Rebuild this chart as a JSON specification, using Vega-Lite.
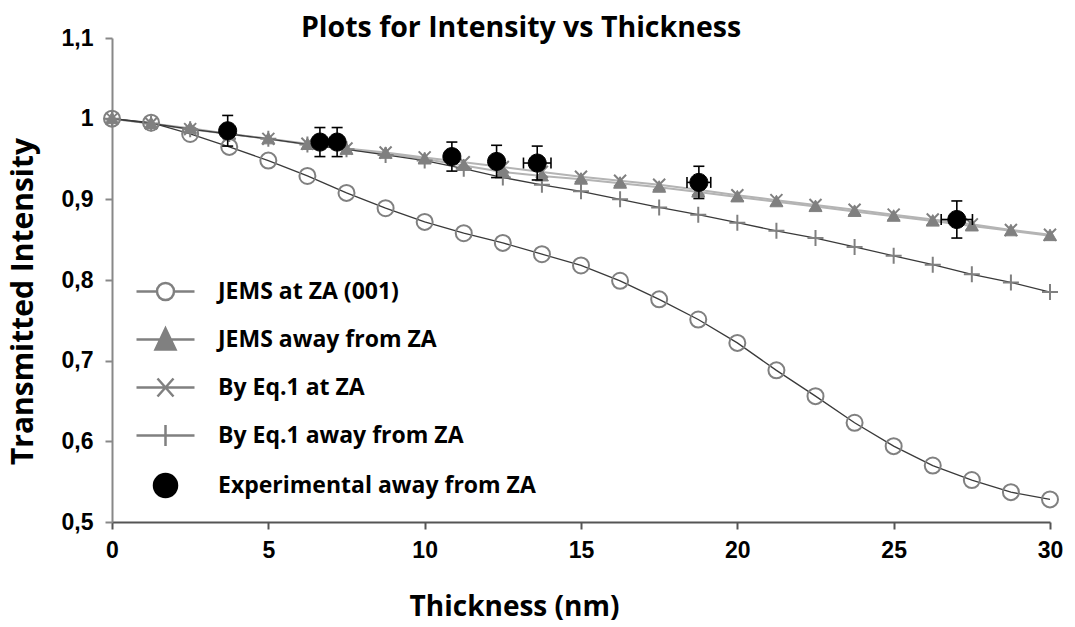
{
  "$schema": "https://vega.github.io/schema/vega-lite/v6.json",
  "width": 938,
  "height": 484,
  "autosize": "none",
  "padding": {"left": 112, "top": 38, "right": 25, "bottom": 105},
  "background": "white",
  "title": {"text": "Plots for Intensity vs Thickness", "font": "Open Sans", "fontSize": 28.5, "fontWeight": "bold", "color": "#000000", "anchor": "middle", "frame": "group", "dx": -60, "baseline": "alphabetic", "offset": -38},
  "config": {
    "view": {"stroke": null}
  },
  "datasets": {
    "all": [
      {"series": "JEMS at ZA (001)", "t": 0, "v": 1.0},
      {"series": "JEMS at ZA (001)", "t": 1.25, "v": 0.995},
      {"series": "JEMS at ZA (001)", "t": 2.5, "v": 0.981},
      {"series": "JEMS at ZA (001)", "t": 3.75, "v": 0.965},
      {"series": "JEMS at ZA (001)", "t": 5, "v": 0.948},
      {"series": "JEMS at ZA (001)", "t": 6.25, "v": 0.929},
      {"series": "JEMS at ZA (001)", "t": 7.5, "v": 0.908},
      {"series": "JEMS at ZA (001)", "t": 8.75, "v": 0.889},
      {"series": "JEMS at ZA (001)", "t": 10, "v": 0.872},
      {"series": "JEMS at ZA (001)", "t": 11.25, "v": 0.858},
      {"series": "JEMS at ZA (001)", "t": 12.5, "v": 0.846},
      {"series": "JEMS at ZA (001)", "t": 13.75, "v": 0.832},
      {"series": "JEMS at ZA (001)", "t": 15, "v": 0.818},
      {"series": "JEMS at ZA (001)", "t": 16.25, "v": 0.799},
      {"series": "JEMS at ZA (001)", "t": 17.5, "v": 0.776},
      {"series": "JEMS at ZA (001)", "t": 18.75, "v": 0.751},
      {"series": "JEMS at ZA (001)", "t": 20, "v": 0.722},
      {"series": "JEMS at ZA (001)", "t": 21.25, "v": 0.688},
      {"series": "JEMS at ZA (001)", "t": 22.5, "v": 0.656},
      {"series": "JEMS at ZA (001)", "t": 23.75, "v": 0.623},
      {"series": "JEMS at ZA (001)", "t": 25, "v": 0.594},
      {"series": "JEMS at ZA (001)", "t": 26.25, "v": 0.570},
      {"series": "JEMS at ZA (001)", "t": 27.5, "v": 0.552},
      {"series": "JEMS at ZA (001)", "t": 28.75, "v": 0.537},
      {"series": "JEMS at ZA (001)", "t": 30, "v": 0.528},

      {"series": "JEMS away from ZA", "t": 0, "v": 1.0},
      {"series": "JEMS away from ZA", "t": 1.25, "v": 0.994},
      {"series": "JEMS away from ZA", "t": 2.5, "v": 0.988},
      {"series": "JEMS away from ZA", "t": 3.75, "v": 0.981},
      {"series": "JEMS away from ZA", "t": 5, "v": 0.975},
      {"series": "JEMS away from ZA", "t": 6.25, "v": 0.968},
      {"series": "JEMS away from ZA", "t": 7.5, "v": 0.962},
      {"series": "JEMS away from ZA", "t": 8.75, "v": 0.957},
      {"series": "JEMS away from ZA", "t": 10, "v": 0.950},
      {"series": "JEMS away from ZA", "t": 11.25, "v": 0.942},
      {"series": "JEMS away from ZA", "t": 12.5, "v": 0.934},
      {"series": "JEMS away from ZA", "t": 13.75, "v": 0.929},
      {"series": "JEMS away from ZA", "t": 15, "v": 0.925},
      {"series": "JEMS away from ZA", "t": 16.25, "v": 0.920},
      {"series": "JEMS away from ZA", "t": 17.5, "v": 0.915},
      {"series": "JEMS away from ZA", "t": 18.75, "v": 0.909},
      {"series": "JEMS away from ZA", "t": 20, "v": 0.903},
      {"series": "JEMS away from ZA", "t": 21.25, "v": 0.897},
      {"series": "JEMS away from ZA", "t": 22.5, "v": 0.891},
      {"series": "JEMS away from ZA", "t": 23.75, "v": 0.885},
      {"series": "JEMS away from ZA", "t": 25, "v": 0.879},
      {"series": "JEMS away from ZA", "t": 26.25, "v": 0.873},
      {"series": "JEMS away from ZA", "t": 27.5, "v": 0.867},
      {"series": "JEMS away from ZA", "t": 28.75, "v": 0.861},
      {"series": "JEMS away from ZA", "t": 30, "v": 0.855},

      {"series": "By Eq.1 at ZA", "t": 0, "v": 1.0},
      {"series": "By Eq.1 at ZA", "t": 1.25, "v": 0.994},
      {"series": "By Eq.1 at ZA", "t": 2.5, "v": 0.987},
      {"series": "By Eq.1 at ZA", "t": 3.75, "v": 0.981},
      {"series": "By Eq.1 at ZA", "t": 5, "v": 0.975},
      {"series": "By Eq.1 at ZA", "t": 6.25, "v": 0.969},
      {"series": "By Eq.1 at ZA", "t": 7.5, "v": 0.963},
      {"series": "By Eq.1 at ZA", "t": 8.75, "v": 0.958},
      {"series": "By Eq.1 at ZA", "t": 10, "v": 0.952},
      {"series": "By Eq.1 at ZA", "t": 11.25, "v": 0.946},
      {"series": "By Eq.1 at ZA", "t": 12.5, "v": 0.940},
      {"series": "By Eq.1 at ZA", "t": 13.75, "v": 0.934},
      {"series": "By Eq.1 at ZA", "t": 15, "v": 0.928},
      {"series": "By Eq.1 at ZA", "t": 16.25, "v": 0.923},
      {"series": "By Eq.1 at ZA", "t": 17.5, "v": 0.918},
      {"series": "By Eq.1 at ZA", "t": 18.75, "v": 0.912},
      {"series": "By Eq.1 at ZA", "t": 20, "v": 0.905},
      {"series": "By Eq.1 at ZA", "t": 21.25, "v": 0.899},
      {"series": "By Eq.1 at ZA", "t": 22.5, "v": 0.893},
      {"series": "By Eq.1 at ZA", "t": 23.75, "v": 0.887},
      {"series": "By Eq.1 at ZA", "t": 25, "v": 0.881},
      {"series": "By Eq.1 at ZA", "t": 26.25, "v": 0.875},
      {"series": "By Eq.1 at ZA", "t": 27.5, "v": 0.869},
      {"series": "By Eq.1 at ZA", "t": 28.75, "v": 0.862},
      {"series": "By Eq.1 at ZA", "t": 30, "v": 0.856},

      {"series": "By Eq.1 away from ZA", "t": 0, "v": 1.0},
      {"series": "By Eq.1 away from ZA", "t": 1.25, "v": 0.994},
      {"series": "By Eq.1 away from ZA", "t": 2.5, "v": 0.987},
      {"series": "By Eq.1 away from ZA", "t": 3.75, "v": 0.981},
      {"series": "By Eq.1 away from ZA", "t": 5, "v": 0.975},
      {"series": "By Eq.1 away from ZA", "t": 6.25, "v": 0.968},
      {"series": "By Eq.1 away from ZA", "t": 7.5, "v": 0.962},
      {"series": "By Eq.1 away from ZA", "t": 8.75, "v": 0.955},
      {"series": "By Eq.1 away from ZA", "t": 10, "v": 0.948},
      {"series": "By Eq.1 away from ZA", "t": 11.25, "v": 0.938},
      {"series": "By Eq.1 away from ZA", "t": 12.5, "v": 0.927},
      {"series": "By Eq.1 away from ZA", "t": 13.75, "v": 0.918},
      {"series": "By Eq.1 away from ZA", "t": 15, "v": 0.910},
      {"series": "By Eq.1 away from ZA", "t": 16.25, "v": 0.900},
      {"series": "By Eq.1 away from ZA", "t": 17.5, "v": 0.890},
      {"series": "By Eq.1 away from ZA", "t": 18.75, "v": 0.881},
      {"series": "By Eq.1 away from ZA", "t": 20, "v": 0.871},
      {"series": "By Eq.1 away from ZA", "t": 21.25, "v": 0.861},
      {"series": "By Eq.1 away from ZA", "t": 22.5, "v": 0.852},
      {"series": "By Eq.1 away from ZA", "t": 23.75, "v": 0.841},
      {"series": "By Eq.1 away from ZA", "t": 25, "v": 0.830},
      {"series": "By Eq.1 away from ZA", "t": 26.25, "v": 0.819},
      {"series": "By Eq.1 away from ZA", "t": 27.5, "v": 0.807},
      {"series": "By Eq.1 away from ZA", "t": 28.75, "v": 0.797},
      {"series": "By Eq.1 away from ZA", "t": 30, "v": 0.785},

      {"series": "Experimental away from ZA", "t": 3.7, "v": 0.985, "vlo": 0.966, "vhi": 1.004},
      {"series": "Experimental away from ZA", "t": 6.65, "v": 0.971, "vlo": 0.953, "vhi": 0.989},
      {"series": "Experimental away from ZA", "t": 7.2, "v": 0.971, "vlo": 0.953, "vhi": 0.989},
      {"series": "Experimental away from ZA", "t": 10.87, "v": 0.953, "vlo": 0.935, "vhi": 0.971},
      {"series": "Experimental away from ZA", "t": 12.3, "v": 0.947, "vlo": 0.927, "vhi": 0.967},
      {"series": "Experimental away from ZA", "t": 13.6, "v": 0.945, "vlo": 0.924, "vhi": 0.966, "tlo": 13.16, "thi": 14.04},
      {"series": "Experimental away from ZA", "t": 18.77, "v": 0.921, "vlo": 0.901, "vhi": 0.941, "tlo": 18.39, "thi": 19.15},
      {"series": "Experimental away from ZA", "t": 27.02, "v": 0.875, "vlo": 0.852, "vhi": 0.898, "tlo": 26.52, "thi": 27.52}
    ]
  },
  "data": {"name": "all"},
  "encoding": {
    "x": {"field": "t", "type": "quantitative", "title": "Thickness (nm)",
      "scale": {"domain": [0, 30], "nice": false, "zero": false},
      "axis": {"values": [0, 5, 10, 15, 20, 25, 30], "grid": false, "domainColor": "#555555", "domainWidth": 2, "tickColor": "#555555", "tickWidth": 2, "tickSize": 7, "labelFont": "Liberation Sans", "labelFontSize": 23, "labelFontWeight": "bold", "labelColor": "#000000", "labelPadding": 10, "labelFlush": false, "labelOverlap": false, "titleFont": "Open Sans", "titleFontSize": 28, "titleFontWeight": "bold", "titleColor": "#000000", "titleX": 402, "titleY": 93, "titleBaseline": "alphabetic", "titleAlign": "center"}},
    "y": {"field": "v", "type": "quantitative", "title": "Transmitted Intensity",
      "scale": {"domain": [0.5, 1.1], "nice": false, "zero": false},
      "axis": {"values": [0.5, 0.6, 0.7, 0.8, 0.9, 1, 1.1], "labelExpr": "replace(format(datum.value, '.1~f'), '.', ',')", "grid": false, "domainColor": "#888888", "domainWidth": 2, "tickColor": "#888888", "tickWidth": 2, "tickSize": 7, "labelFont": "Liberation Sans", "labelFontSize": 23, "labelFontWeight": "bold", "labelColor": "#000000", "labelPadding": 12, "labelFlush": false, "labelOverlap": false, "titleFont": "Open Sans", "titleFontSize": 30, "titleFontWeight": "bold", "titleColor": "#000000", "titleAngle": 270, "titleX": -80, "titleY": 263, "titleBaseline": "alphabetic", "titleAlign": "center"}}
  },
  "layer": [
    {
      "transform": [{"filter": "datum.series === 'JEMS away from ZA' || datum.series === 'By Eq.1 at ZA'"}],
      "mark": {"type": "line", "stroke": "#b4b4b4", "strokeWidth": 2},
      "encoding": {"detail": {"field": "series"}}
    },
    {
      "transform": [{"filter": "datum.series === 'JEMS at ZA (001)' || datum.series === 'By Eq.1 away from ZA'"}],
      "mark": {"type": "line", "stroke": "#3a3a3a", "strokeWidth": 1.3},
      "encoding": {"detail": {"field": "series"}}
    },
    {
      "transform": [{"filter": "datum.series === 'JEMS at ZA (001)'"}],
      "mark": {"type": "point", "shape": "M1.6,0A1.6,1.6,0,1,1,-1.6,0A1.6,1.6,0,1,1,1.6,0Z", "filled": false, "stroke": "#808080", "fill": "transparent", "strokeWidth": 2, "size": 100, "opacity": 1}
    },
    {
      "transform": [{"filter": "datum.series === 'JEMS away from ZA'"}],
      "mark": {"type": "point", "shape": "M0,-1.3L1.3,1L-1.3,1Z", "filled": true, "fill": "#808080", "stroke": "#808080", "strokeWidth": 1, "size": 100, "opacity": 1}
    },
    {
      "transform": [{"filter": "datum.series === 'By Eq.1 at ZA'"}],
      "mark": {"type": "point", "shape": "M-1.2,-1.2L1.2,1.2M-1.2,1.2L1.2,-1.2", "filled": false, "stroke": "#808080", "fill": "transparent", "strokeWidth": 2, "size": 100, "opacity": 1}
    },
    {
      "transform": [{"filter": "datum.series === 'By Eq.1 away from ZA'"}],
      "mark": {"type": "point", "shape": "M-1.6,0L1.6,0M0,-1.6L0,1.6", "filled": false, "stroke": "#808080", "fill": "transparent", "strokeWidth": 2, "size": 100, "opacity": 1}
    },
    {
      "mark": {"type": "point", "opacity": 0, "size": 400, "strokeWidth": 2.5},
      "encoding": {
        "shape": {"field": "series", "type": "nominal",
          "scale": {"domain": ["JEMS at ZA (001)", "JEMS away from ZA", "By Eq.1 at ZA", "By Eq.1 away from ZA", "Experimental away from ZA"],
            "range": ["M-2.9,0L-0.85,0M0.85,0L2.9,0M0.85,0A0.85,0.85,0,1,1,-0.85,0A0.85,0.85,0,1,1,0.85,0Z", "M-2.9,0L2.9,0M0,-1.1L1,1L-1,1Z", "M-2.9,0L2.9,0M-0.8,-0.9L0.8,0.9M-0.8,0.9L0.8,-0.9", "M-2.9,0L2.9,0M0,-1.05L0,1.05", "M1.15,0A1.15,1.15,0,1,1,-1.15,0A1.15,1.15,0,1,1,1.15,0Z"]},
          "legend": {
            "title": null, "orient": "none", "legendX": 42, "legendY": 242, "direction": "vertical", "padding": 0,
            "labelFont": "Open Sans", "labelFontSize": 23, "labelFontWeight": "bold", "labelColor": "#000000", "labelLimit": 500, "labelOffset": 41, "rowPadding": 18, "symbolSize": 400, "symbolStrokeWidth": 2.5, "symbolOpacity": 1,
            "encode": {"symbols": {
              "fill": {"value": {"expr": "datum.value === 'JEMS away from ZA' ? '#808080' : datum.value === 'Experimental away from ZA' ? '#000000' : 'transparent'"}},
              "stroke": {"value": {"expr": "datum.value === 'Experimental away from ZA' ? '#000000' : '#808080'"}},
              "strokeWidth": {"value": 2.5},
              "size": {"value": 400},
              "opacity": {"value": 1}
            }}
          }},
        "fill": {"field": "series", "type": "nominal", "legend": null,
          "scale": {"domain": ["JEMS at ZA (001)", "JEMS away from ZA", "By Eq.1 at ZA", "By Eq.1 away from ZA", "Experimental away from ZA"],
            "range": ["transparent", "#808080", "transparent", "transparent", "#000000"]}},
        "stroke": {"field": "series", "type": "nominal", "legend": null,
          "scale": {"domain": ["JEMS at ZA (001)", "JEMS away from ZA", "By Eq.1 at ZA", "By Eq.1 away from ZA", "Experimental away from ZA"],
            "range": ["#808080", "#808080", "#808080", "#808080", "#000000"]}}
      }
    },
    {
      "transform": [{"filter": "isValid(datum.vlo)"}],
      "mark": {"type": "rule", "color": "#000000", "strokeWidth": 1.6},
      "encoding": {"y": {"field": "vlo", "type": "quantitative"}, "y2": {"field": "vhi"}}
    },
    {
      "transform": [{"filter": "isValid(datum.vlo)"}],
      "mark": {"type": "tick", "orient": "horizontal", "color": "#000000", "size": 11, "thickness": 1.6, "opacity": 1},
      "encoding": {"y": {"field": "vlo", "type": "quantitative"}}
    },
    {
      "transform": [{"filter": "isValid(datum.vhi)"}],
      "mark": {"type": "tick", "orient": "horizontal", "color": "#000000", "size": 11, "thickness": 1.6, "opacity": 1},
      "encoding": {"y": {"field": "vhi", "type": "quantitative"}}
    },
    {
      "transform": [{"filter": "isValid(datum.tlo)"}],
      "mark": {"type": "rule", "color": "#000000", "strokeWidth": 1.6},
      "encoding": {"x": {"field": "tlo", "type": "quantitative"}, "x2": {"field": "thi"}}
    },
    {
      "transform": [{"filter": "isValid(datum.tlo)"}],
      "mark": {"type": "tick", "orient": "vertical", "color": "#000000", "size": 11, "thickness": 1.6, "opacity": 1},
      "encoding": {"x": {"field": "tlo", "type": "quantitative"}}
    },
    {
      "transform": [{"filter": "isValid(datum.thi)"}],
      "mark": {"type": "tick", "orient": "vertical", "color": "#000000", "size": 11, "thickness": 1.6, "opacity": 1},
      "encoding": {"x": {"field": "thi", "type": "quantitative"}}
    },
    {
      "transform": [{"filter": "datum.series === 'Experimental away from ZA'"}],
      "mark": {"type": "point", "shape": "M1.8,0A1.8,1.8,0,1,1,-1.8,0A1.8,1.8,0,1,1,1.8,0Z", "filled": true, "fill": "#000000", "stroke": "#000000", "strokeWidth": 1, "size": 100, "opacity": 1}
    }
  ]
}
